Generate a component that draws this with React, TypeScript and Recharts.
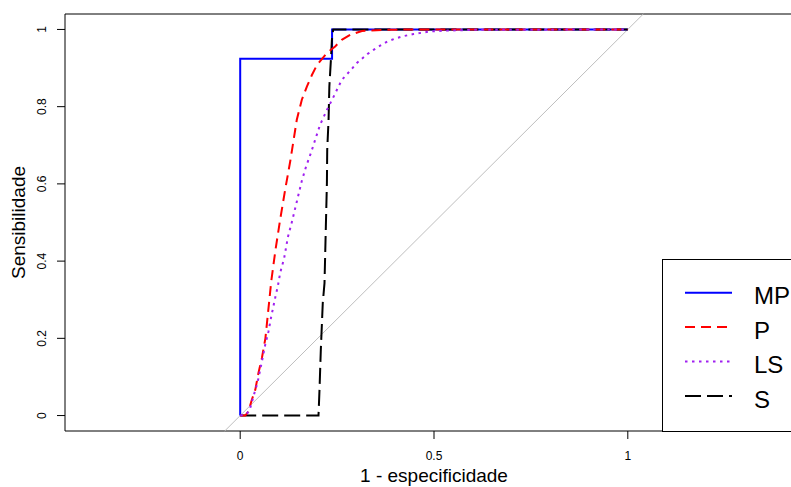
import { LineChart, Line, XAxis, YAxis, ReferenceArea, ReferenceLine, Legend, Label } from 'recharts';

// ROC curves, x = 1 - especificidade, y = sensibilidade
const mpX = [0, 0, 0.237, 0.237, 1];
const mpY = [0, 0.924, 0.924, 1, 1];

const pX = [0, 0.013, 0.021, 0.03, 0.039, 0.047, 0.056, 0.065, 0.077, 0.08, 0.091, 0.103, 0.116, 0.129, 0.146, 0.159, 0.172, 0.185, 0.198, 0.224, 0.245, 0.262, 0.284, 0.314, 0.378, 0.45, 1];
const pY = [0, 0, 0.01, 0.041, 0.067, 0.11, 0.149, 0.2, 0.317, 0.347, 0.429, 0.507, 0.585, 0.658, 0.766, 0.818, 0.852, 0.882, 0.908, 0.939, 0.956, 0.973, 0.986, 0.996, 0.999, 1, 1];

const lsX = [0, 0.015, 0.024, 0.034, 0.0446, 0.056, 0.0645, 0.073, 0.08, 0.092, 0.097, 0.103, 0.1135, 0.123, 0.133, 0.146, 0.159, 0.17, 0.1824, 0.206, 0.224, 0.239, 0.262, 0.288, 0.301, 0.328, 0.344, 0.361, 0.38, 0.402, 0.423, 0.447, 0.49, 0.535, 0.6, 1];
const lsY = [0, 0.003, 0.013, 0.049, 0.085, 0.14, 0.183, 0.218, 0.256, 0.313, 0.334, 0.369, 0.408, 0.462, 0.5, 0.554, 0.608, 0.645, 0.68, 0.753, 0.792, 0.822, 0.869, 0.898, 0.913, 0.936, 0.947, 0.958, 0.969, 0.977, 0.983, 0.988, 0.995, 0.997, 0.999, 1];

const sX = [0, 0.202, 0.2046, 0.208, 0.213, 0.2175, 0.221, 0.2237, 0.2245, 0.228, 0.23, 0.234, 0.2366, 0.24, 1];
const sY = [0, 0, 0.067, 0.17, 0.291, 0.343, 0.49, 0.602, 0.688, 0.766, 0.852, 0.921, 0.973, 1, 1];

const xTicks = [0, 0.5, 1];
const yTicks = [0, 0.2, 0.4, 0.6, 0.8, 1];

const zip = (xs: number[], ys: number[]) => xs.map((x, i) => ({ x, y: ys[i] }));

const series = [
  { name: 'MP', data: zip(mpX, mpY), color: '#0000FF', dash: undefined },
  { name: 'P', data: zip(pX, pY), color: '#FF0000', dash: '10 6' },
  { name: 'LS', data: zip(lsX, lsY), color: '#A020F0', dash: '2.5 4.5' },
  { name: 'S', data: zip(sX, sY), color: '#000000', dash: '16 6' },
];
// drawing order of the curves
const drawOrder = ['MP', 'S', 'P', 'LS'];

const FONT = '"Liberation Sans", Arial, sans-serif';

const XTick = ({ x, y, payload }: any) => (
  <text x={x} y={y + 18.5} textAnchor="middle" fontSize={12} fontFamily={FONT} fill="#000">
    {String(payload.value)}
  </text>
);

const YTick = ({ x, y, payload }: any) => {
  const bx = x - 8.5;
  return (
    <text x={bx} y={y} transform={`rotate(-90, ${bx}, ${y})`} textAnchor="middle" fontSize={12} fontFamily={FONT} fill="#000">
      {String(payload.value)}
    </text>
  );
};

const xTitle = ({ viewBox }: any) => (
  <text x={viewBox.x + viewBox.width / 2} y={viewBox.y + 51} textAnchor="middle" fontSize={19} fontFamily={FONT} fill="#000">
    1 - especificidade
  </text>
);

const yTitle = ({ viewBox }: any) => {
  const cy = viewBox.y + viewBox.height / 2;
  return (
    <text x={24.5} y={cy} transform={`rotate(-90, 24.5, ${cy})`} textAnchor="middle" fontSize={19} fontFamily={FONT} fill="#000">
      Sensibilidade
    </text>
  );
};

const LegendBox = () => (
  <div style={{ width: 150, height: 173, boxSizing: 'border-box', border: '1px solid #000', background: '#fff' }}>
    <svg width={150} height={171} style={{ display: 'block', marginTop: -1, marginLeft: -1 }}>
      {series.map((s, i) => {
        const cy = 33.7 + i * 34.4;
        return (
          <g key={s.name}>
            <line x1={23} x2={70} y1={cy} y2={cy} stroke={s.color} strokeWidth={2} strokeDasharray={s.dash} />
            <text x={92} y={cy + 11.6} fontSize={24} fontFamily={FONT} fill="#000">
              {s.name}
            </text>
          </g>
        );
      })}
    </svg>
  </div>
);

export default function App() {
  return (
    <div style={{ position: 'absolute', left: 0, top: 0, width: 791, height: 487, overflow: 'hidden', background: '#fff' }}>
      <LineChart width={805} height={487} margin={{ top: 14, right: 2, bottom: 0, left: 0 }}>
        <XAxis
          type="number"
          dataKey="x"
          domain={[-0.452, 1.452]}
          ticks={xTicks}
          allowDataOverflow
          axisLine={false}
          tickLine={{ stroke: '#000' }}
          tickSize={8}
          tickMargin={2}
          tick={<XTick />}
          height={56}
        >
          <Label content={xTitle} />
        </XAxis>
        <YAxis
          type="number"
          dataKey="y"
          domain={[-0.04, 1.04]}
          ticks={yTicks}
          allowDataOverflow
          axisLine={false}
          tickLine={{ stroke: '#000' }}
          tickSize={8}
          tickMargin={2}
          tick={<YTick />}
          width={65}
        >
          <Label content={yTitle} />
        </YAxis>
        <ReferenceArea x1={-0.452} x2={1.452} y1={-0.04} y2={1.04} fill="none" stroke="#000" strokeWidth={1} fillOpacity={0} />
        <ReferenceLine
          segment={[{ x: -0.04, y: -0.04 }, { x: 1.04, y: 1.04 }]}
          stroke="#BEBEBE"
          strokeWidth={1}
        />
        {drawOrder.map((n) => {
          const s = series.find((d) => d.name === n)!;
          return (
            <Line
              key={s.name}
              data={s.data}
              dataKey="y"
              name={s.name}
              type="linear"
              stroke={s.color}
              strokeWidth={2}
              strokeDasharray={s.dash}
              dot={false}
              activeDot={false}
              isAnimationActive={false}
            />
          );
        })}
        <Legend
          layout="vertical"
          align="center"
          verticalAlign="middle"
          content={<LegendBox />}
          wrapperStyle={{ left: 662, top: 259, width: 150, height: 173, margin: 0, padding: 0 }}
        />
      </LineChart>
    </div>
  );
}
